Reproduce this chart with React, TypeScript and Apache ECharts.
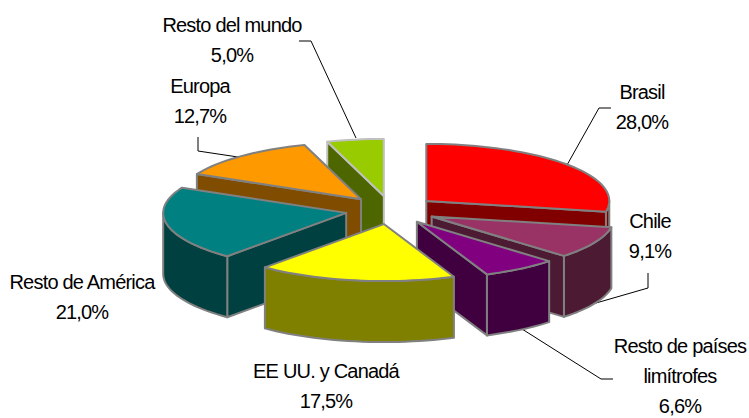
import React, { useEffect, useRef } from "react";
import * as echarts from "echarts";

const categories = ["Brasil", "Chile", "Resto de países limítrofes", "EE UU. y Canadá", "Resto de América", "Europa", "Resto del mundo"];
const shares = [28.0, 9.1, 6.6, 17.5, 21.0, 12.7, 5.0];
const topColors = ["#FF0000", "#993366", "#800080", "#FFFF00", "#008080", "#FF9900", "#99CC00"];
const sideColors = ["#800000", "#4D1A33", "#400040", "#808000", "#004040", "#804D00", "#4D6600"];
const edgeColors = ["#808080", "#808080", "#808080", "#808080", "#808080", "#808080", "#C0C0C0"];

// Label layout: one entry per category, lines centred on x, one line every 30px from y.
const labelLines = [["Brasil"], ["Chile"], ["Resto de países", "limítrofes"], ["EE UU. y Canadá"], ["Resto de América"], ["Europa"], ["Resto del mundo"]];
const labelAnchors = [[642, 92], [650, 221], [680, 346], [326, 371], [82, 282], [200, 86], [232, 25]];
const leaderLines = [
  [[567, 165], [599, 108], [611, 108]],
  [[596, 303], [648, 288], [648, 273]],
  [[522, 329], [601, 379], [613, 379]],
  null,
  null,
  [[238, 157], [198, 151], [198, 137]],
  [[299, 41], [311, 41], [356, 138]],
];

const CX = 391;
const CY = 210;
const RX = 183;
const RY = 57;
const DEPTH = 61;
const EXPLODE = 0.25;
const FONT_SIZE = 20;
const LETTER_SPACING = "-0.8px";

const total = shares.reduce((a, b) => a + b, 0);
const starts = shares.map((_, i) => shares.slice(0, i).reduce((a, b) => a + b, 0));

function renderSlice(params: any, api: any) {
  const i = params.dataIndex;
  const share = api.value(0);
  const start = api.value(1);
  const a0 = (start / total) * Math.PI * 2;
  const a1 = ((start + share) / total) * Math.PI * 2;
  const mid = (a0 + a1) / 2;
  const ax = CX + EXPLODE * RX * Math.sin(mid);
  const ay = CY - EXPLODE * RY * Math.cos(mid);
  const pt = (t: number, drop = 0) => [ax + RX * Math.sin(t), ay - RY * Math.cos(t) + drop];
  const arc = (from: number, to: number, drop = 0) => {
    const n = Math.max(2, Math.ceil((to - from) / 0.04));
    const out: number[][] = [];
    for (let k = 0; k <= n; k++) out.push(pt(from + ((to - from) * k) / n, drop));
    return out;
  };
  const base = Math.round(-Math.cos(mid) * 100) * 10;
  const style = (fill: string) => ({
    fill,
    stroke: edgeColors[i],
    lineWidth: 2,
    lineJoin: "round",
  });
  const children: any[] = [];
  const side = sideColors[i];
  if (Math.sin(a1) > 0.001) {
    children.push({
      type: "polygon",
      z2: base + 1,
      shape: { points: [[ax, ay], pt(a1), pt(a1, DEPTH), [ax, ay + DEPTH]] },
      style: style(side),
    });
  }
  if (Math.sin(a0) < -0.001) {
    children.push({
      type: "polygon",
      z2: base + 2,
      shape: { points: [[ax, ay], pt(a0), pt(a0, DEPTH), [ax, ay + DEPTH]] },
      style: style(side),
    });
  }
  const r0 = Math.max(a0, Math.PI / 2);
  const r1 = Math.min(a1, (Math.PI * 3) / 2);
  if (r1 > r0) {
    children.push({
      type: "polygon",
      z2: base + 3,
      shape: { points: [...arc(r0, r1), ...arc(r0, r1, DEPTH).reverse()] },
      style: style(side),
    });
  }
  children.push({
    type: "polygon",
    z2: base + 4,
    shape: { points: [[ax, ay], ...arc(a0, a1)] },
    style: style(topColors[i]),
  });
  return { type: "group", children };
}

function buildGraphics() {
  const els: any[] = [];
  categories.forEach((_, i) => {
    const [x, y] = labelAnchors[i];
    const lines = [...labelLines[i], shares[i].toFixed(1).replace(".", ",") + "%"];
    lines.forEach((text, k) => {
      els.push({
        type: "text",
        x,
        y: y + k * 30,
        style: {
          text,
          x: 0,
          y: 0,
          fill: "#000000",
          font: `${FONT_SIZE}px "Liberation Sans", Arial, sans-serif`,
          textAlign: "center",
          textVerticalAlign: "middle",
        },
      });
    });
    const leader = leaderLines[i];
    if (leader) {
      els.push({
        type: "polyline",
        shape: { points: leader },
        style: { stroke: "#000000", lineWidth: 1, fill: "none" },
      });
    }
  });
  return els;
}

export default function App() {
  const ref = useRef<HTMLDivElement>(null);
  useEffect(() => {
    document.body.style.margin = "0";
    const chart = echarts.init(ref.current!, undefined, { renderer: "svg" });
    chart.setOption({
      animation: false,
      backgroundColor: "#FFFFFF",
      graphic: { elements: buildGraphics() },
      series: [
        {
          type: "custom",
          coordinateSystem: "none",
          renderItem: renderSlice,
          encode: { value: 0 },
          data: shares.map((v, i) => ({ name: categories[i], value: [v, starts[i]] })),
        },
      ],
    });
    ref.current!.querySelectorAll("text").forEach((t) => {
      (t as SVGTextElement).style.letterSpacing = LETTER_SPACING;
    });
    return () => chart.dispose();
  }, []);
  return <div ref={ref} style={{ width: 749, height: 418 }} />;
}
